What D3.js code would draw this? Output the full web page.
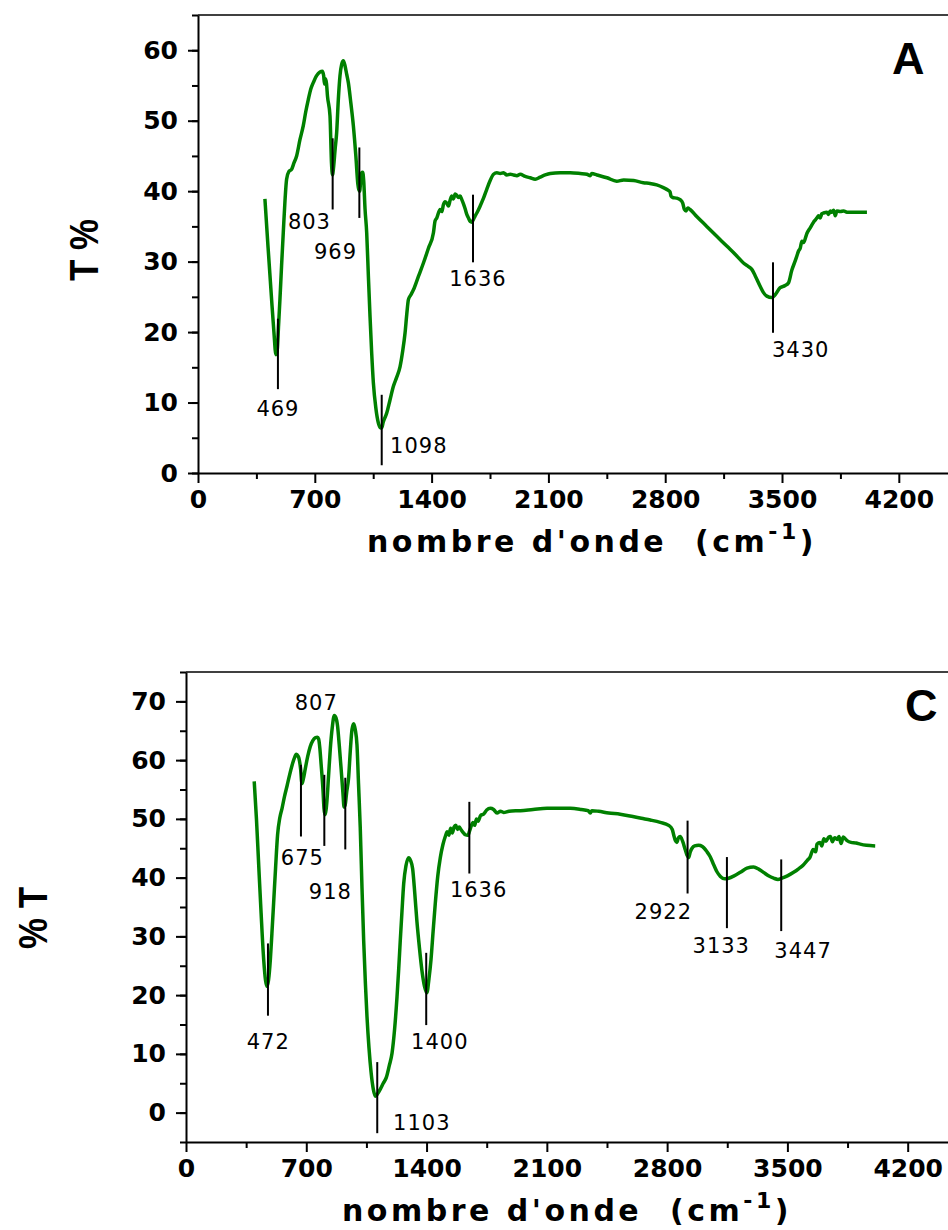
<!DOCTYPE html>
<html>
<head>
<meta charset="utf-8">
<script src="https://d3js.org/d3.v7.min.js"></script>
<style>
body { margin: 0; background: #fff; }
svg { display: block; }
.axis .domain, .axis line { stroke: #000; stroke-width: 2; }
.axis text { font-family: "DejaVu Sans", Verdana, sans-serif; font-weight: bold; font-size: 25px; fill: #000; }
.peak-label { font-family: "DejaVu Sans", Verdana, sans-serif; font-size: 21px; letter-spacing: 1px; fill: #000; }
.x-title { font-family: "DejaVu Sans", Verdana, sans-serif; font-weight: bold; font-size: 30px; letter-spacing: 3.5px; }
.y-title { font-family: "Liberation Sans", Arial, sans-serif; font-weight: bold; font-size: 40px; }
.panel-letter { font-family: "Liberation Sans", Arial, sans-serif; font-weight: bold; font-size: 45px; }
</style>
</head>
<body>
<div id="ftir_chart"></div>
<script>
// set the size of svg
const width = 948; const height = 1230;

// tick labels
const xTicks = [0, 700, 1400, 2100, 2800, 3500, 4200];
const yTicksA = [0, 10, 20, 30, 40, 50, 60];
const yTicksC = [0, 10, 20, 30, 40, 50, 60, 70];

// spectrum A (wavenumber, T %)
const wnA = [401, 420, 440, 455, 467, 475, 483, 491, 501, 511, 521, 531, 545, 561, 575, 591, 611, 631, 646, 661,
    676, 691, 711, 731, 745, 753, 758, 765, 770, 776, 791, 800, 806, 813, 822, 831, 841, 851, 861, 871,
    881, 891, 901, 916, 931, 946, 958, 964, 969, 975, 981, 987, 993, 1001, 1011, 1021, 1031, 1041, 1051, 1066,
    1081, 1095, 1101, 1110, 1131, 1151, 1171, 1191, 1211, 1226, 1241, 1251, 1261, 1276, 1291, 1321, 1351, 1381, 1411, 1421,
    1431, 1451, 1461, 1471, 1481, 1491, 1501, 1511, 1521, 1531, 1541, 1551, 1561, 1571, 1581, 1591, 1601, 1611, 1621, 1631,
    1641, 1651, 1661, 1671, 1691, 1711, 1731, 1751, 1771, 1791, 1811, 1831, 1851, 1871, 1891, 1911, 1931, 1961, 1991, 2021,
    2051, 2081, 2111, 2171, 2231, 2291, 2331, 2351, 2360, 2391, 2451, 2509, 2551, 2611, 2669, 2709, 2749, 2789, 2819, 2829,
    2835, 2845, 2869, 2889, 2905, 2915, 2925, 2935, 2949, 2989, 3049, 3109, 3169, 3229, 3269, 3299, 3319, 3339, 3369, 3389,
    3409, 3439, 3459, 3489, 3519, 3539, 3559, 3579, 3589, 3599, 3609, 3619, 3629, 3649, 3669, 3689, 3699, 3709, 3719, 3729,
    3739, 3749, 3769, 3779, 3789, 3799, 3809, 3819, 3829, 3849, 3869, 3889, 3909, 3949, 4009];
const tA = [38.9, 32, 25, 20, 16.8, 17.5, 21, 24.6, 29.5, 34.1, 38.5, 41.7, 42.8, 43.1, 44, 45, 47.3, 49.3, 51.3, 53,
    54.5, 55.4, 56.4, 56.9, 57.0, 56.4, 55.2, 55.9, 55.3, 53.5, 50.7, 44, 42.3, 43.5, 46, 48.3, 53, 56.4, 58, 58.5,
    57.8, 56.6, 55.4, 52.5, 49.3, 45, 41, 40.2, 40.0, 41.5, 42.6, 42.7, 41.5, 37.5, 34.1, 28, 22.2, 17, 12.8, 9.2,
    7.1, 6.4, 6.4, 7.2, 8.5, 10.4, 12.3, 13.6, 15.1, 17.2, 19.9, 22.5, 24.6, 25.3, 26, 27.9, 29.8, 31.9, 34.1, 35.8,
    36.2, 37.4, 37.1, 38.1, 38.5, 38.3, 37.9, 38.7, 39.3, 38.9, 39.6, 39.4, 39.1, 39.3, 38.8, 38.2, 37.5, 36.7, 36.2, 35.7,
    35.6, 36, 36.5, 36.9, 37.9, 39, 40.3, 41.5, 42.4, 42.6, 42.5, 42.6, 42.3, 42.4, 42.3, 42.2, 42.4, 42.1, 41.9, 41.7,
    42.0, 42.3, 42.5, 42.6, 42.6, 42.5, 42.4, 42.2, 42.5, 42.3, 41.9, 41.4, 41.6, 41.5, 41.2, 41.1, 40.9, 40.5, 40.1, 39.9,
    39.3, 39.1, 39.0, 38.8, 38.3, 37.4, 37.2, 37.6, 37.4, 36.4, 35.0, 33.6, 32.2, 30.8, 29.8, 29.3, 28.9, 28.0, 26.5, 25.6,
    25.1, 24.9, 25.3, 26.3, 26.6, 27.0, 28.8, 30.1, 30.8, 31.5, 31.9, 32.9, 32.7, 34.0, 34.8, 35.6, 35.9, 36.2, 36.5, 36.2,
    36.8, 36.9, 37.0, 36.7, 37.2, 37.0, 37.3, 36.5, 37.2, 37.1, 37.2, 37.0, 37.0, 37.0, 37.0];

// peak marks A
const peakTextA = ["469", "803", "969", "1098", "1636", "3430"];
const peakPosA = [479, 807, 967, 1101, 1648, 3446];
const peakTopA = [21.9, 47.5, 46.2, 11.1, 39.5, 29.9];
const peakBotA = [11.9, 37.4, 36.2, 1.1, 29.9, 19.9];
const labelWnA = [479, 797, 953, 1151, 1678, 3440];
const labelTA = [8.1, 34.6, 30.4, 2.8, 26.5, 16.5];
const labelAnchorA = ["middle", "end", "end", "start", "middle", "start"];

// spectrum C (wavenumber, % T)
const wnC = [397, 410, 423, 437, 452, 463, 471, 480, 491, 500, 510, 521, 533, 546, 559, 573, 588, 603, 617, 630,
    642, 652, 659, 667, 675, 683, 694, 708, 723, 738, 752, 765, 772, 779, 786, 797, 803, 809, 815, 820,
    830, 840, 851, 863, 873, 882, 892, 902, 913, 920, 926, 935, 946, 956, 966, 976, 985, 995, 1004, 1014,
    1024, 1034, 1044, 1053, 1065, 1077, 1090, 1102, 1115, 1131, 1148, 1166, 1183, 1199, 1214, 1228, 1238, 1247, 1257, 1267,
    1280, 1296, 1307, 1319, 1331, 1344, 1358, 1373, 1388, 1402, 1414, 1426, 1438, 1451, 1465, 1480, 1495, 1509, 1520, 1530,
    1540, 1550, 1560, 1570, 1580, 1590, 1600, 1615, 1625, 1640, 1650, 1660, 1670, 1680, 1690, 1700, 1715, 1732, 1750, 1771,
    1790, 1810, 1830, 1848, 1880, 1946, 2020, 2101, 2170, 2237, 2300, 2340, 2353, 2362, 2400, 2460, 2527, 2600, 2650, 2702,
    2760, 2809, 2830, 2838, 2848, 2857, 2866, 2876, 2890, 2906, 2916, 2925, 2935, 2945, 2960, 2983, 3005, 3032, 3050, 3071,
    3090, 3110, 3135, 3158, 3190, 3226, 3265, 3303, 3335, 3361, 3390, 3420, 3445, 3468, 3500, 3536, 3565, 3594, 3615, 3632,
    3650, 3665, 3672, 3690, 3700, 3712, 3725, 3740, 3750, 3762, 3775, 3790, 3800, 3812, 3825, 3847, 3870, 3900, 3924, 3960, 4011];
const tC = [56.4, 50, 42.2, 34, 26.1, 22.5, 21.5, 22.5, 26.1, 30.5, 35.7, 41.5, 47.3, 50.2, 51.8, 53.8, 55.6, 57.5, 59.1, 60.3,
    61.0, 60.7, 60.1, 58.5, 56.0, 56.8, 58.5, 60.6, 62.3, 63.3, 63.8, 63.9, 63.6, 62, 59.4, 55.0, 51.8, 50.7, 51.5, 53,
    57.5, 62, 65.5, 67.6, 67.2, 65.8, 62.5, 58.8, 54.5, 52.0, 52.3, 54.5, 56.9, 61.5, 65.2, 66.2, 65.2, 62.6, 56, 48.6,
    38.5, 29.3, 22, 16.5, 11, 6.9, 4.0, 2.8, 3.2, 4.0, 5.0, 6.0, 8.0, 10.1, 14.2, 19.7, 24.5, 29.3, 34.3, 39.0,
    42.0, 43.4, 42.9, 41.5, 37.5, 32.5, 28.2, 24.2, 21.5, 20.4, 22.8, 26.1, 30.8, 35.7, 40.2, 43.4, 45.6, 47.0, 47.8, 47.2,
    48.4, 47.6, 48.6, 48.9, 48.2, 48.6, 48.2, 47.6, 47.3, 47.2, 47.9, 48.8, 49.4, 48.9, 50.0, 49.6, 50.6, 50.8, 51.5, 51.8,
    51.6, 51.0, 51.3, 51.1, 51.3, 51.4, 51.6, 51.8, 51.8, 51.8, 51.6, 51.4, 51.0, 51.4, 51.3, 51.0, 50.8, 50.4, 50.1, 49.8,
    49.4, 48.9, 48.2, 47.3, 46.3, 46.0, 46.8, 47.0, 46.2, 44.7, 43.8, 43.4, 44.4, 45.0, 45.4, 45.5, 45.3, 44.4, 43.6, 42.2,
    41.0, 40.2, 39.8, 39.9, 40.3, 40.9, 41.6, 41.8, 41.4, 40.9, 40.3, 39.9, 39.7, 39.9, 40.3, 40.9, 41.5, 42.2, 42.9, 43.5,
    44.8, 44.4, 45.7, 46.0, 45.4, 46.6, 46.2, 46.9, 47.0, 46.1, 46.8, 46.5, 47.0, 45.8, 46.9, 46.3, 46.0, 45.9, 45.7, 45.5, 45.4];

// peak marks C
const peakTextC = ["472", "675", "807", "918", "1103", "1400", "1636", "2922", "3133", "3447"];
const peakPosC = [477, 669, 805, 927, 1113, 1398, 1649, 2919, 3148, 3464];
const peakTopC = [28.8, 59.2, 57.5, 57.0, 8.6, 27.2, 52.9, 49.7, 43.5, 43.1];
const peakBotC = [16.5, 47.0, 45.4, 44.8, -3.5, 14.9, 40.7, 37.3, 31.4, 30.9];
const labelWnC = [479, 677, 758, 840, 1205, 1477, 1703, 2778, 3115, 3424];
const labelTC = [10.9, 42.2, 68.6, 36.4, -3.0, 10.8, 36.7, 32.9, 27.1, 26.4];
const labelAnchorC = ["middle", "middle", "middle", "middle", "start", "middle", "middle", "middle", "middle", "start"];

let svg = d3.select('#ftir_chart')
    .append('svg')
        .attr('width', width)
        .attr('height', height);

function drawPanel(p) {
    const plotG = svg.append('g')
        .attr('transform', `translate(${p.left}, ${p.top})`);

    const x_scale = d3.scaleLinear()
        .domain([0, 4800])
        .range([0, 4800 * p.pxPerWn]);
    const y_scale = d3.scaleLinear()
        .domain(p.yDomain)
        .range([p.innerHeight, 0]);

    // top frame line
    plotG.append('line')
        .attr('x1', 0).attr('x2', x_scale(4800))
        .attr('y1', 0).attr('y2', 0)
        .attr('stroke', '#000')
        .attr('stroke-width', 1.5);

    // minor ticks
    plotG.append('g')
        .attr('class', 'axis')
        .attr('transform', `translate(0, ${p.innerHeight})`)
        .call(d3.axisBottom(x_scale).tickValues(d3.range(350, 4800, 700)).tickSize(6).tickFormat(''))
        .call(g => g.select('.domain').remove());
    plotG.append('g')
        .attr('class', 'axis')
        .call(d3.axisLeft(y_scale).tickValues(d3.range(p.yDomain[0], p.yDomain[1] + 1, 5)).tickSize(6).tickFormat(''))
        .call(g => g.select('.domain').remove());

    // major axes
    plotG.append('g')
        .attr('class', 'axis')
        .attr('transform', `translate(0, ${p.innerHeight})`)
        .call(d3.axisBottom(x_scale).tickValues(xTicks).tickFormat(d3.format('d'))
            .tickSize(10).tickSizeOuter(0).tickPadding(7));
    plotG.append('g')
        .attr('class', 'axis')
        .call(d3.axisLeft(y_scale).tickValues(p.yTicks).tickFormat(d3.format('d'))
            .tickSize(10).tickSizeOuter(0).tickPadding(10));

    // spectrum
    const line = d3.line()
        .x(function(d){ return x_scale(d[0]); })
        .y(function(d){ return y_scale(d[1]); })
        .curve(d3.curveMonotoneX);
    plotG.append('path')
        .datum(p.wn.map(function(w, i){ return [w, p.t[i]]; }))
        .attr('fill', 'none')
        .attr('stroke', '#008000')
        .attr('stroke-width', 3.5)
        .attr('stroke-linejoin', 'round')
        .attr('d', line);

    // peak marks
    plotG.append('g')
        .selectAll('line')
        .data(p.peakPos)
        .join('line')
            .attr('x1', function(d){ return x_scale(d); })
            .attr('x2', function(d){ return x_scale(d); })
            .attr('y1', function(d, i){ return y_scale(p.peakTop[i]); })
            .attr('y2', function(d, i){ return y_scale(p.peakBot[i]); })
            .attr('stroke', '#000')
            .attr('stroke-width', 2);
    plotG.append('g')
        .selectAll('text')
        .data(p.peakText)
        .join('text')
            .attr('class', 'peak-label')
            .attr('x', function(d, i){ return x_scale(p.labelWn[i]); })
            .attr('y', function(d, i){ return y_scale(p.labelT[i]); })
            .attr('text-anchor', function(d, i){ return p.labelAnchor[i]; })
            .text(function(d){ return d; });

    // x axis title
    const xTitle = svg.append('text')
        .attr('class', 'x-title')
        .attr('x', p.xTitlePos[0])
        .attr('y', p.xTitlePos[1])
        .attr('text-anchor', 'middle');
    xTitle.append('tspan').text("nombre d'onde\u00a0\u00a0(cm");
    xTitle.append('tspan').attr('dy', -13).attr('font-size', '22px').text('-1');
    xTitle.append('tspan').attr('dy', 13).text(')');

    // y axis title
    svg.append('text')
        .attr('class', 'y-title')
        .attr('transform', `translate(${p.yTitlePos[0]}, ${p.yTitlePos[1]}) rotate(-90)`)
        .attr('text-anchor', 'middle')
        .attr('textLength', 62)
        .attr('lengthAdjust', 'spacingAndGlyphs')
        .text(p.yTitle);

    // panel letter
    svg.append('text')
        .attr('class', 'panel-letter')
        .attr('x', p.letterPos[0])
        .attr('y', p.letterPos[1])
        .text(p.letter);
}

drawPanel({
    left: 198, top: 15, innerHeight: 458, pxPerWn: 0.16686,
    yDomain: [0, 65], yTicks: yTicksA,
    wn: wnA, t: tA,
    peakText: peakTextA, peakPos: peakPosA, peakTop: peakTopA, peakBot: peakBotA,
    labelWn: labelWnA, labelT: labelTA, labelAnchor: labelAnchorA,
    xTitlePos: [592, 552], yTitle: 'T %', yTitlePos: [98, 250],
    letter: 'A', letterPos: [892, 74]
});

drawPanel({
    left: 186, top: 672, innerHeight: 470, pxPerWn: 0.17183,
    yDomain: [-5, 75], yTicks: yTicksC,
    wn: wnC, t: tC,
    peakText: peakTextC, peakPos: peakPosC, peakTop: peakTopC, peakBot: peakBotC,
    labelWn: labelWnC, labelT: labelTC, labelAnchor: labelAnchorC,
    xTitlePos: [567, 1221], yTitle: '% T', yTitlePos: [47, 918],
    letter: 'C', letterPos: [905, 721]
});
</script>
</body>
</html>
